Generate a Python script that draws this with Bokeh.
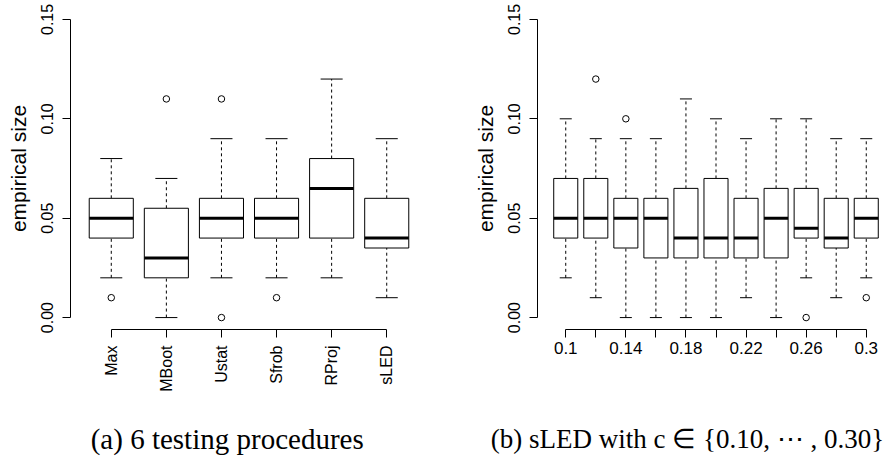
import math
from bokeh.plotting import figure
from bokeh.layouts import row, column
from bokeh.models import Range1d, FixedTicker, PrintfTickFormatter
from bokeh.core.properties import value
from bokeh.embed import file_html
from bokeh.resources import INLINE

# ---- panel (a): 6 testing procedures ----
methods = ["Max", "MBoot", "Ustat", "Sfrob", "RProj", "sLED"]
m_low = [0.02, 0.00, 0.02, 0.02, 0.02, 0.01]
m_q1 = [0.04, 0.02, 0.04, 0.04, 0.04, 0.035]
m_med = [0.05, 0.03, 0.05, 0.05, 0.065, 0.04]
m_q3 = [0.06, 0.055, 0.06, 0.06, 0.08, 0.06]
m_high = [0.08, 0.07, 0.09, 0.09, 0.12, 0.09]
m_out_cat = ["Max", "MBoot", "Ustat", "Ustat", "Sfrob"]
m_out_val = [0.01, 0.11, 0.11, 0.00, 0.01]

# ---- panel (b): sLED with different c ----
c_vals = [0.10, 0.12, 0.14, 0.16, 0.18, 0.20, 0.22, 0.24, 0.26, 0.28, 0.30]
c_tick_labels = ["0.1", "", "0.14", "", "0.18", "", "0.22", "", "0.26", "", "0.3"]
c_low = [0.02, 0.01, 0.00, 0.00, 0.00, 0.00, 0.01, 0.00, 0.02, 0.01, 0.02]
c_q1 = [0.04, 0.04, 0.035, 0.03, 0.03, 0.03, 0.03, 0.03, 0.04, 0.035, 0.04]
c_med = [0.05, 0.05, 0.05, 0.05, 0.04, 0.04, 0.04, 0.05, 0.045, 0.04, 0.05]
c_q3 = [0.07, 0.07, 0.06, 0.06, 0.065, 0.07, 0.06, 0.065, 0.065, 0.06, 0.06]
c_high = [0.10, 0.09, 0.09, 0.09, 0.11, 0.10, 0.09, 0.10, 0.10, 0.09, 0.09]
c_out_c = [0.12, 0.14, 0.26, 0.30]
c_out_val = [0.12, 0.10, 0.00, 0.01]

y_ticks = [0.00, 0.05, 0.10, 0.15]
caption_a = "(a) 6 testing procedures"
caption_b = "(b) sLED with c \u2208 {0.10, \u22ef , 0.30}"

SANS = "Liberation Sans"
SERIF = "Liberation Serif"


def draw_boxes(p, xs, low, q1, med, q3, high, ox, oy, bw=0.8):
    half = bw / 2
    cap = bw / 4
    p.segment(x0=xs, x1=xs, y0=q3, y1=high, line_color="black", line_width=1, line_dash="3 3")
    p.segment(x0=xs, x1=xs, y0=low, y1=q1, line_color="black", line_width=1, line_dash="3 3")
    p.segment(x0=[x - cap for x in xs], x1=[x + cap for x in xs], y0=high, y1=high,
              line_color="black", line_width=1)
    p.segment(x0=[x - cap for x in xs], x1=[x + cap for x in xs], y0=low, y1=low,
              line_color="black", line_width=1)
    p.quad(left=[x - half for x in xs], right=[x + half for x in xs], bottom=q1, top=q3,
           fill_color="white", line_color="black", line_width=1)
    p.segment(x0=[x - half for x in xs], x1=[x + half for x in xs], y0=med, y1=med,
              line_color="black", line_width=3)
    p.scatter(x=ox, y=oy, marker="circle", size=6.5, fill_color=None, line_color="black", line_width=1)


def style_common(p, label):
    p.outline_line_color = None
    p.xgrid.visible = False
    p.ygrid.visible = False
    p.background_fill_color = "white"
    p.border_fill_color = "white"
    ya = p.yaxis[0]
    ya.ticker = FixedTicker(ticks=y_ticks)
    ya.formatter = PrintfTickFormatter(format="%.2f")
    ya.bounds = (0, 0.15)
    ya.major_label_orientation = "parallel"
    ya.major_tick_out = 8
    ya.major_tick_in = 0
    ya.minor_tick_out = 0
    ya.minor_tick_in = 0
    ya.major_label_standoff = 9
    ya.major_label_text_font = SANS
    ya.major_label_text_font_size = "16px"
    ya.major_label_text_color = "black"
    ya.axis_label = label
    ya.axis_label_text_font = SANS
    ya.axis_label_text_font_size = "21px"
    ya.axis_label_text_font_style = "normal"
    ya.axis_label_text_color = "black"
    ya.axis_label_standoff = 9
    ya.axis_line_color = "black"
    ya.major_tick_line_color = "black"
    xa = p.xaxis[0]
    xa.major_tick_out = 8
    xa.major_tick_in = 0
    xa.minor_tick_out = 0
    xa.minor_tick_in = 0
    xa.axis_line_color = "black"
    xa.major_tick_line_color = "black"
    xa.major_label_text_font = SANS
    xa.major_label_text_color = "black"


Y_RANGE = (-0.006, 0.156)
PANEL_H = 400

# ---------- figure (a) ----------
xa_pos = list(range(1, len(methods) + 1))
p1 = figure(width=448, height=PANEL_H, output_backend="svg", toolbar_location=None,
            x_range=Range1d(0.26, 6.74), y_range=Range1d(*Y_RANGE),
            min_border_left=70, min_border_right=21, min_border_top=7, min_border_bottom=71)
draw_boxes(p1, xa_pos, m_low, m_q1, m_med, m_q3, m_high,
           [methods.index(c) + 1 for c in m_out_cat], m_out_val)
style_common(p1, "empirical size")
ax1 = p1.xaxis[0]
ax1.ticker = FixedTicker(ticks=xa_pos)
ax1.major_label_overrides = {i + 1: m for i, m in enumerate(methods)}
ax1.bounds = (1, len(methods))
ax1.major_label_orientation = math.pi / 2
ax1.major_label_standoff = 8
ax1.major_label_text_font_size = "16px"

# ---------- figure (b) ----------
xb_pos = list(range(1, len(c_vals) + 1))
p2 = figure(width=448, height=PANEL_H, output_backend="svg", toolbar_location=None,
            x_range=Range1d(0.06, 11.94), y_range=Range1d(*Y_RANGE),
            min_border_left=89, min_border_right=2, min_border_top=7, min_border_bottom=71)
draw_boxes(p2, xb_pos, c_low, c_q1, c_med, c_q3, c_high,
           [c_vals.index(c) + 1 for c in c_out_c], c_out_val)
style_common(p2, "empirical size")
ax2 = p2.xaxis[0]
ax2.ticker = FixedTicker(ticks=xb_pos)
ax2.major_label_overrides = {i + 1: t for i, t in enumerate(c_tick_labels)}
ax2.bounds = (1, len(c_vals))
ax2.major_label_standoff = 4
ax2.major_label_text_font_size = "17px"

# ---------- caption strip ----------
cap = figure(width=896, height=56, output_backend="svg", toolbar_location=None,
             x_range=Range1d(0, 896), y_range=Range1d(56, 0),
             x_axis_type=None, y_axis_type=None, min_border=0)
cap.outline_line_color = None
cap.xgrid.visible = False
cap.ygrid.visible = False
cap.text(x=[226.7], y=[38], text=[caption_a], text_align="center",
         text_baseline="alphabetic", text_font=value(SERIF), text_font_size=value("29px"),
         text_color="black")
cap.text(x=[687.0], y=[38], text=[caption_b], text_align="center",
         text_baseline="alphabetic", text_font=value(SERIF), text_font_size=value("27px"),
         text_color="black")

layout = column(row(p1, p2), cap)
open("out.html", "w").write(file_html(layout, INLINE))
